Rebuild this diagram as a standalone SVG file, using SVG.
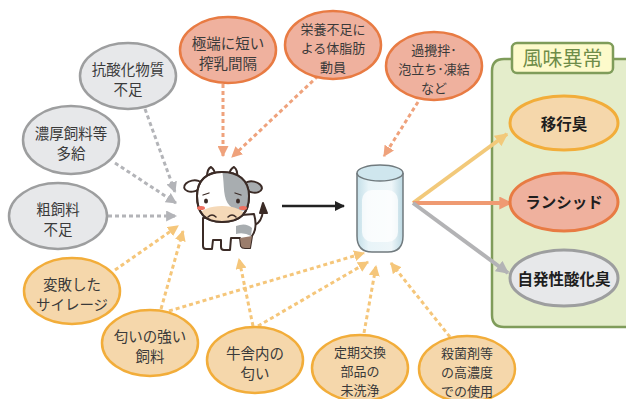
<svg xmlns="http://www.w3.org/2000/svg" width="626" height="399" viewBox="0 0 626 399">
  <style>
    .t { font-family: "Noto Sans CJK JP", "Noto Sans CJK SC", sans-serif; font-size: 14.5px; fill: #3a3a3a; text-anchor: middle; }
    .t3 { font-size: 13px; }
    .tb { font-family: "Noto Sans CJK JP", "Noto Sans CJK SC", sans-serif; font-size: 15.5px; font-weight: bold; fill: #1e1e1e; text-anchor: middle; }
    .gray { fill: #e7e8ea; stroke: #9d9e9f; stroke-width: 2.5; }
    .sal { fill: #efb19e; stroke: #e87b43; stroke-width: 2.5; }
    .yel { fill: #f5d7ab; stroke: #f2ad3a; stroke-width: 2.5; }
    .d { fill: none; stroke-width: 3; stroke-dasharray: 4 3; }
    .dg { stroke: #b3b4b8; }
    .ds { stroke: #efa27c; }
    .dy { stroke: #f5c67a; }
    .s { fill: none; stroke-width: 4; }
  </style>
  <defs>
    <marker id="ah-g" viewBox="0 0 10 10" refX="9" refY="5" markerUnits="userSpaceOnUse" markerWidth="11" markerHeight="11" orient="auto">
      <path d="M0,0 L10,5 L0,10 Z" fill="#b3b4b8"/>
    </marker>
    <marker id="ah-s" viewBox="0 0 10 10" refX="9" refY="5" markerUnits="userSpaceOnUse" markerWidth="11" markerHeight="11" orient="auto">
      <path d="M0,0 L10,5 L0,10 Z" fill="#efa27c"/>
    </marker>
    <marker id="ah-y" viewBox="0 0 10 10" refX="9" refY="5" markerUnits="userSpaceOnUse" markerWidth="11" markerHeight="11" orient="auto">
      <path d="M0,0 L10,5 L0,10 Z" fill="#f5c67a"/>
    </marker>
    <marker id="ah-k" viewBox="0 0 10 10" refX="9" refY="5" markerUnits="userSpaceOnUse" markerWidth="10" markerHeight="10" orient="auto">
      <path d="M0,0 L10,5 L0,10 Z" fill="#222"/>
    </marker>
    <marker id="big-y" viewBox="0 0 10 10" refX="9" refY="5" markerUnits="userSpaceOnUse" markerWidth="13" markerHeight="13" orient="auto">
      <path d="M0,0 L10,5 L0,10 Z" fill="#f2c97a"/>
    </marker>
    <marker id="big-s" viewBox="0 0 10 10" refX="9" refY="5" markerUnits="userSpaceOnUse" markerWidth="13" markerHeight="13" orient="auto">
      <path d="M0,0 L10,5 L0,10 Z" fill="#ef9a72"/>
    </marker>
    <marker id="big-g" viewBox="0 0 10 10" refX="9" refY="5" markerUnits="userSpaceOnUse" markerWidth="13" markerHeight="13" orient="auto">
      <path d="M0,0 L10,5 L0,10 Z" fill="#b3b3b5"/>
    </marker>
    <linearGradient id="glassFill" x1="0" y1="0" x2="1" y2="0">
      <stop offset="0" stop-color="#c4dfe8"/>
      <stop offset="0.25" stop-color="#e8f4f8"/>
      <stop offset="0.75" stop-color="#eef6f9"/>
      <stop offset="1" stop-color="#bcd9e3"/>
    </linearGradient>
    <clipPath id="headClip">
      <path d="M197,196 C197,180 207,172 222,172 C238,172 249,180 249,196 C249,212 241,222 222,222 C204,222 197,212 197,196 Z"/>
    </clipPath>
  </defs>

  <rect width="626" height="399" fill="#fff"/>

  <!-- flavour panel -->
  <g id="panel">
    <path d="M626,59 L504,59 Q492,59 492,71 L492,315 Q492,327 504,327 L626,327" fill="#e4edcb" stroke="#7f9c5a" stroke-width="2.5"/>
    <rect x="512" y="43" width="101" height="30" rx="5" fill="#fdfacb" stroke="#7f9c5a" stroke-width="2.5"/>
    <text x="562.5" y="66" font-family="Noto Sans CJK JP, sans-serif" font-size="20" fill="#6e8c48" text-anchor="middle">風味異常</text>
  </g>

  <!-- connectors -->
  <g id="connectors">
    <!-- gray causes -> cow -->
    <line class="d dg" x1="145" y1="109" x2="175" y2="192" marker-end="url(#ah-g)"/>
    <line class="d dg" x1="115" y1="163" x2="176" y2="203" marker-end="url(#ah-g)"/>
    <line class="d dg" x1="108" y1="216" x2="176" y2="216" marker-end="url(#ah-g)"/>
    <!-- salmon causes -->
    <line class="d ds" x1="223" y1="84" x2="223" y2="156" marker-end="url(#ah-s)"/>
    <line class="d ds" x1="318" y1="76" x2="232" y2="157" marker-end="url(#ah-s)"/>
    <line class="d ds" x1="418" y1="102" x2="384" y2="156" marker-end="url(#ah-s)"/>
    <!-- yellow causes -->
    <line class="d dy" x1="115" y1="270" x2="178" y2="226" marker-end="url(#ah-y)"/>
    <line class="d dy" x1="161" y1="309" x2="183" y2="231" marker-end="url(#ah-y)"/>
    <line class="d dy" x1="169" y1="311" x2="364" y2="253" marker-end="url(#ah-y)"/>
    <line class="d dy" x1="253" y1="326" x2="239" y2="259" marker-end="url(#ah-y)"/>
    <line class="d dy" x1="258" y1="326" x2="368" y2="262" marker-end="url(#ah-y)"/>
    <line class="d dy" x1="364" y1="333" x2="376" y2="266" marker-end="url(#ah-y)"/>
    <line class="d dy" x1="450" y1="337" x2="391" y2="263" marker-end="url(#ah-y)"/>
    <!-- cow -> milk -->
    <line x1="282" y1="206" x2="344" y2="206" stroke="#222" stroke-width="2.5" marker-end="url(#ah-k)"/>
    <!-- milk -> flavour defects -->
    <line class="s" x1="413" y1="203" x2="507" y2="134" stroke="#f2c97a" marker-end="url(#big-y)"/>
    <line class="s" x1="413" y1="203" x2="511" y2="203" stroke="#ef9a72" marker-end="url(#big-s)"/>
    <line class="s" x1="413" y1="203" x2="508" y2="273" stroke="#b3b3b5" marker-end="url(#big-g)"/>
  </g>

  <!-- cause nodes -->
  <g id="n-antiox">
    <ellipse class="gray" cx="128" cy="76" rx="48" ry="33"/>
    <text class="t" x="128" y="75">抗酸化物質<tspan x="128" dy="20">不足</tspan></text>
  </g>
  <g id="n-conc">
    <ellipse class="gray" cx="71" cy="140" rx="48" ry="34"/>
    <text class="t" x="71" y="139">濃厚飼料等<tspan x="71" dy="20">多給</tspan></text>
  </g>
  <g id="n-rough">
    <ellipse class="gray" cx="58" cy="216" rx="49" ry="33"/>
    <text class="t" x="58" y="215">粗飼料<tspan x="58" dy="20">不足</tspan></text>
  </g>
  <g id="n-milking">
    <ellipse class="sal" cx="228" cy="50" rx="48" ry="33"/>
    <text class="t" x="228" y="49">極端に短い<tspan x="228" dy="20">搾乳間隔</tspan></text>
  </g>
  <g id="n-nutri">
    <ellipse class="sal" cx="333" cy="45" rx="48" ry="34"/>
    <text class="t t3" x="333" y="34">栄養不足に<tspan x="333" dy="19">よる体脂肪</tspan><tspan x="333" dy="19">動員</tspan></text>
  </g>
  <g id="n-stir">
    <ellipse class="sal" cx="434" cy="66" rx="48" ry="34"/>
    <text class="t t3" x="434" y="55">過攪拌･<tspan x="434" dy="19">泡立ち･凍結</tspan><tspan x="434" dy="19">など</tspan></text>
  </g>
  <g id="n-silage">
    <ellipse class="yel" cx="72" cy="291" rx="48" ry="33"/>
    <text class="t" x="72" y="290">変敗した<tspan x="72" dy="20">サイレージ</tspan></text>
  </g>
  <g id="n-feed">
    <ellipse class="yel" cx="150" cy="343" rx="48" ry="33"/>
    <text class="t" x="150" y="342">匂いの強い<tspan x="150" dy="20">飼料</tspan></text>
  </g>
  <g id="n-barn">
    <ellipse class="yel" cx="255" cy="360" rx="48" ry="33"/>
    <text class="t" x="255" y="359">牛舎内の<tspan x="255" dy="20">匂い</tspan></text>
  </g>
  <g id="n-parts">
    <ellipse class="yel" cx="360" cy="368" rx="48" ry="33"/>
    <text class="t t3" x="360" y="357">定期交換<tspan x="360" dy="19">部品の</tspan><tspan x="360" dy="19">未洗浄</tspan></text>
  </g>
  <g id="n-steril">
    <ellipse class="yel" cx="467" cy="369" rx="48" ry="33"/>
    <text class="t t3" x="467" y="358">殺菌剤等<tspan x="467" dy="19">の高濃度</tspan><tspan x="467" dy="19">での使用</tspan></text>
  </g>

  <!-- cow -->
  <g id="cow" stroke="#3b2b26" stroke-width="2" stroke-linejoin="round" stroke-linecap="round">
    <!-- tail -->
    <path d="M252,226 Q262,224 263,210" fill="none"/>
    <path d="M260,213 L263,203 L267,213 Z" fill="#3b2b26"/>
    <!-- body and legs -->
    <path d="M203,218 L203,246 Q203,249 206,249 L212,249 L213,240 L221,240 L221,247 Q221,250 224,250 L230,250 L231,238 L240,238 L241,246 Q242,248 245,248 L250,248 L252,236 Q258,228 254,214 Z" fill="#ffffff"/>
    <path d="M240,238 L241,246 Q242,248 245,248 L250,248 L252,236 Z" fill="#9b7d6c" stroke="none"/>
    <path d="M236,226 Q246,222 252,228 L251,236 Q244,232 236,234 Z" fill="#a8adb0" stroke="none"/>
    <!-- ears -->
    <ellipse cx="193" cy="186" rx="9" ry="5.5" fill="#fff" transform="rotate(-12 193 186)"/>
    <ellipse cx="253" cy="187" rx="9" ry="5.5" fill="#a8adb0" transform="rotate(12 253 187)"/>
    <!-- horns -->
    <path d="M207,177 Q207,169 211,167 Q215,170 215,175" fill="#fff"/>
    <path d="M229,175 Q230,169 234,167 Q238,170 237,177" fill="#fff"/>
    <!-- head -->
    <path d="M197,196 C197,180 207,172 222,172 C238,172 249,180 249,196 C249,212 241,222 222,222 C204,222 197,212 197,196 Z" fill="#ffffff"/>
    <g clip-path="url(#headClip)" stroke="none">
      <path d="M222,170 C225,185 222,198 230,206 C238,212 246,212 252,208 L252,170 Z" fill="#a8adb0"/>
      <ellipse cx="222" cy="215" rx="22" ry="9" fill="#f5d9b8"/>
    </g>
    <path d="M197,196 C197,180 207,172 222,172 C238,172 249,180 249,196 C249,212 241,222 222,222 C204,222 197,212 197,196 Z" fill="none"/>
    <!-- face -->
    <ellipse cx="206" cy="201" rx="2" ry="2.6" fill="#3b2b26" stroke="none"/>
    <ellipse cx="238" cy="201" rx="2" ry="2.6" fill="#3b2b26" stroke="none"/>
    <path d="M203,195 L209,193" fill="none" stroke-width="1.3"/>
    <path d="M235,193 L241,195" fill="none" stroke-width="1.3"/>
    <ellipse cx="201" cy="208" rx="4" ry="2" fill="#f07060" stroke="none"/>
    <ellipse cx="243" cy="208" rx="4" ry="2" fill="#f07060" stroke="none"/>
    <path d="M208,217 Q212,213 216,217" fill="none" stroke-width="1.5"/>
    <path d="M228,217 Q232,213 236,217" fill="none" stroke-width="1.5"/>
  </g>

  <!-- glass of milk -->
  <g id="milk">
    <path d="M357,173 L357,236 Q357,252 372,252 L388,252 Q403,252 403,236 L403,173" fill="url(#glassFill)" stroke="#707a7e" stroke-width="1.5"/>
    <rect x="362" y="190" width="36" height="52" rx="10" fill="#ffffff" opacity="0.75"/>
    <ellipse cx="380" cy="173" rx="23" ry="8" fill="#cfe6ee" stroke="#707a7e" stroke-width="1.5"/>
  </g>

  <!-- flavour defect nodes -->
  <g id="n-transfer">
    <ellipse cx="564" cy="123" rx="54" ry="27" fill="#f5d7ab" stroke="#f2ad3a" stroke-width="3"/>
    <text class="tb" x="564" y="130">移行臭</text>
  </g>
  <g id="n-rancid">
    <ellipse cx="564" cy="202" rx="54" ry="29" fill="#efb19e" stroke="#e87b43" stroke-width="3"/>
    <text class="tb" x="564" y="208">ランシッド</text>
  </g>
  <g id="n-oxid">
    <ellipse cx="564" cy="278" rx="54" ry="28" fill="#e7e8ea" stroke="#9d9e9f" stroke-width="3"/>
    <text class="tb" x="564" y="285">自発性酸化臭</text>
  </g>
</svg>
